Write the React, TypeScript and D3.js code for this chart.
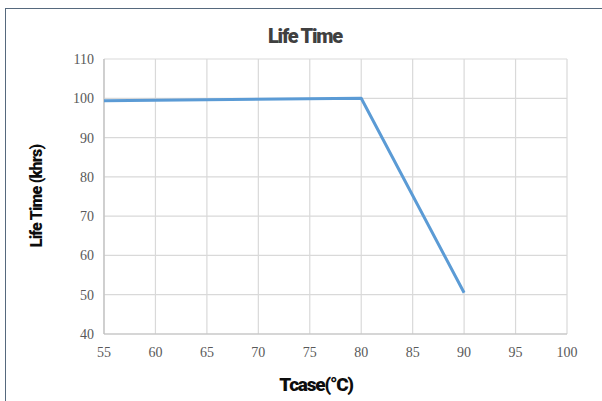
import React from "react";
import * as d3 from "d3";

const tcase = [55, 80, 90];
const lifeTime = [99.4, 100, 50.5];
const xTicks = [55, 60, 65, 70, 75, 80, 85, 90, 95, 100];
const yTicks = [40, 50, 60, 70, 80, 90, 100, 110];

export default function App() {
  const W = 602, H = 401;
  const x = d3.scaleLinear().domain([55, 100]).range([104, 567]);
  const y = d3.scaleLinear().domain([40, 110]).range([334, 59]);
  const pts = tcase.map((t, i) => [t, lifeTime[i]] as [number, number]);
  const line = d3.line<[number, number]>().x(d => x(d[0])).y(d => y(d[1]));
  const tickFont = "'Liberation Serif', 'DejaVu Serif', serif";
  const boldFont = "Roboto, 'Liberation Sans', sans-serif";
  return (
    <svg width={W} height={H} style={{ position: "absolute", left: 0, top: 0, background: "#fff" }}>
      <rect x={5.5} y={8.5} width={W + 10} height={H} fill="#fff" stroke="#56697d" strokeWidth={1} />
      <text x={305} y={43} textAnchor="middle" fontFamily={boldFont} fontWeight={900} fontSize={20} letterSpacing={-1.2} fill="#404040">Life Time</text>
      {xTicks.map(t => (
        <line key={"gx" + t} x1={x(t)} x2={x(t)} y1={y(110)} y2={y(40)} stroke="#d9d9d9" strokeWidth={1.2} />
      ))}
      {yTicks.map(t => (
        <line key={"gy" + t} x1={x(55)} x2={x(100)} y1={y(t)} y2={y(t)} stroke="#d9d9d9" strokeWidth={1.2} />
      ))}
      <line x1={x(55)} x2={x(55)} y1={y(110)} y2={y(40)} stroke="#bfbfbf" strokeWidth={1.2} />
      <line x1={x(55)} x2={x(100)} y1={y(40)} y2={y(40)} stroke="#bfbfbf" strokeWidth={1.2} />
      {yTicks.map(t => (
        <text key={"ly" + t} x={94} y={y(t) + 5} textAnchor="end" fontFamily={tickFont} fontSize={14} fill="#595959">{t}</text>
      ))}
      {xTicks.map(t => (
        <text key={"lx" + t} x={x(t)} y={357} textAnchor="middle" fontFamily={tickFont} fontSize={14} fill="#595959">{t}</text>
      ))}
      <path d={line(pts) || ""} fill="none" stroke="#5b9bd5" strokeWidth={3} strokeLinejoin="round" />
      <text x={316} y={391} textAnchor="middle" fontFamily={boldFont} fontWeight={900} fontSize={19} letterSpacing={-1.2} fill="#0d0d0d">Tcase(°C)</text>
      <text transform={`translate(42,196) rotate(-90)`} textAnchor="middle" fontFamily={boldFont} fontWeight={900} fontSize={16} letterSpacing={-0.8} fill="#0d0d0d">Life Time (khrs)</text>
    </svg>
  );
}
